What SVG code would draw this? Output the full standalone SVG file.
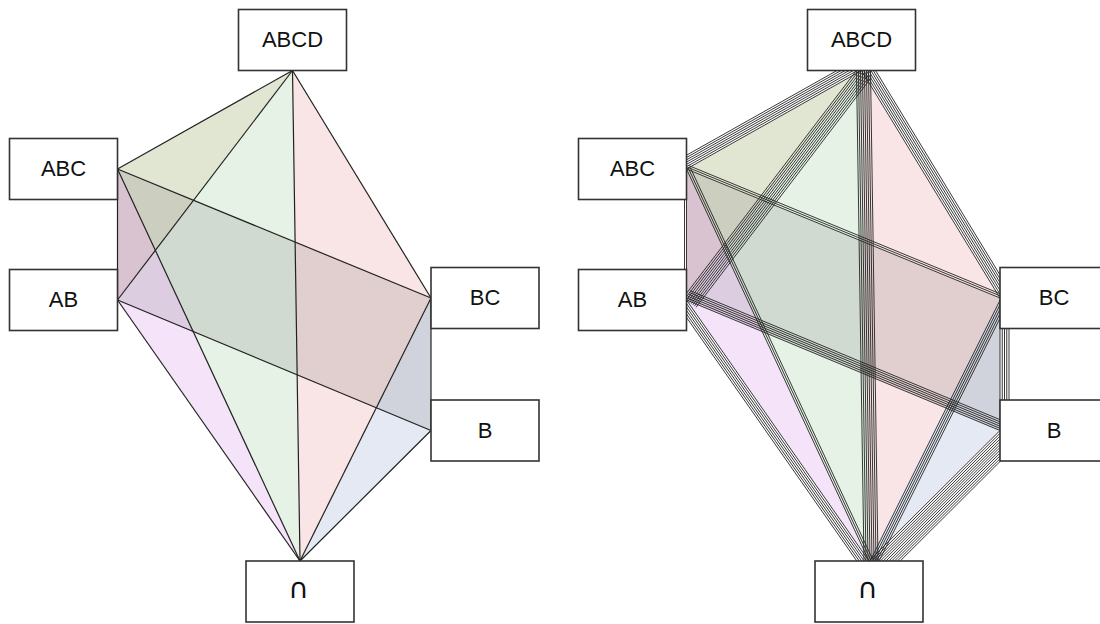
<svg xmlns="http://www.w3.org/2000/svg" width="1100" height="624" viewBox="0 0 1100 624">
<style>
.box{fill:#fff;stroke:#333;stroke-width:1.6}
.lbl{font-family:"Liberation Sans",Arial,sans-serif;font-size:22px;fill:#111;text-anchor:middle}
.sym{font-family:"DejaVu Sans",sans-serif;font-size:28px}
.e{stroke:#222;stroke-width:1.2;fill:none}
.b{stroke:#222;stroke-width:0.9;fill:none}
.g{fill:rgba(0,128,0,0.1)}
.p{fill:rgba(200,0,0,0.1)}
.bl{fill:rgba(0,40,150,0.1)}
.li{fill:rgba(200,100,230,0.18)}
.ol{fill:rgba(200,130,60,0.1)}
.q{fill:rgba(90,80,90,0.15)}
</style>
<defs>
<g id="fills">
<polygon class="g" points="292.5,70.5 117.5,169 300,561"/>
<polygon class="p" points="292.5,70.5 431,298 300,561"/>
<polygon class="bl" points="431,298 431,430.5 300,561"/>
<polygon class="li" points="117.5,169 117.5,300 300,561"/>
<polygon class="ol" points="292.5,70.5 117.5,169 117.5,300"/>
<polygon class="q" points="117.5,169 431,298 431,430.5 117.5,300"/>
</g>
</defs>

<g id="left-faces"><use href="#fills"/></g>
<g id="right-faces"><use href="#fills" transform="translate(569,0)"/></g>

<g id="left-connectors" class="e">
<line x1="292.5" y1="70.5" x2="117.5" y2="169"/>
<line x1="292.5" y1="70.5" x2="117.5" y2="300"/>
<line x1="292.5" y1="70.5" x2="300" y2="561"/>
<line x1="292.5" y1="70.5" x2="431" y2="298"/>
<line x1="117.5" y1="169" x2="117.5" y2="300"/>
<line x1="117.5" y1="169" x2="431" y2="298"/>
<line x1="117.5" y1="169" x2="300" y2="561"/>
<line x1="117.5" y1="300" x2="431" y2="430.5"/>
<line x1="117.5" y1="300" x2="300" y2="561"/>
<line x1="431" y1="298" x2="431" y2="430.5"/>
<line x1="431" y1="298" x2="300" y2="561"/>
<line x1="431" y1="430.5" x2="300" y2="561"/>
</g>

<g id="right-connectors" class="b">
<line id="r1" x1="861.5" y1="70.5" x2="686.5" y2="169"/>
<use href="#r1" x="-0.98" y="-1.74"/><use href="#r1" x="-1.96" y="-3.49"/><use href="#r1" x="-2.94" y="-5.23"/><use href="#r1" x="-3.92" y="-6.97"/><use href="#r1" x="-4.91" y="-8.72"/><use href="#r1" x="-5.89" y="-10.46"/>

<line id="r2" x1="861.5" y1="70.5" x2="686.5" y2="300"/>
<use href="#r2" x="-3.18" y="-2.43"/><use href="#r2" x="-1.59" y="-1.21"/><use href="#r2" x="1.59" y="1.21"/><use href="#r2" x="3.18" y="2.43"/><use href="#r2" x="4.77" y="3.64"/><use href="#r2" x="6.36" y="4.85"/><use href="#r2" x="7.95" y="6.06"/><use href="#r2" x="9.54" y="7.28"/>

<line id="r3" x1="856.5" y1="70.6" x2="864" y2="561.1"/>
<use href="#r3" x="2" y="-0.03"/><use href="#r3" x="4" y="-0.06"/><use href="#r3" x="6" y="-0.09"/><use href="#r3" x="8" y="-0.12"/><use href="#r3" x="10" y="-0.15"/><use href="#r3" x="12" y="-0.18"/><use href="#r3" x="14" y="-0.21"/>

<line id="r4" x1="861.5" y1="70.5" x2="1000" y2="298"/>
<use href="#r4" x="1.71" y="-1.04"/><use href="#r4" x="3.42" y="-2.08"/><use href="#r4" x="5.12" y="-3.12"/><use href="#r4" x="6.83" y="-4.16"/><use href="#r4" x="8.54" y="-5.2"/><use href="#r4" x="10.25" y="-6.24"/>

<line id="r5" x1="686.5" y1="169" x2="686.5" y2="300"/>
<use href="#r5" x="-2" y="0"/>

<line id="r6" x1="686.5" y1="169" x2="1000" y2="298"/>
<use href="#r6" x="0.76" y="-1.85"/><use href="#r6" x="1.52" y="-3.7"/>

<line id="r7" x1="686.5" y1="169" x2="869" y2="561"/>
<use href="#r7" x="1.81" y="-0.84"/><use href="#r7" x="3.63" y="-1.69"/>

<line id="r8" x1="686.5" y1="300" x2="1000" y2="430.5"/>
<use href="#r8" x="0.77" y="-1.85"/><use href="#r8" x="1.54" y="-3.69"/><use href="#r8" x="2.31" y="-5.54"/><use href="#r8" x="3.07" y="-7.39"/><use href="#r8" x="3.84" y="-9.23"/>

<line id="r9" x1="686.5" y1="300" x2="869" y2="561"/>
<use href="#r9" x="-1.64" y="1.15"/><use href="#r9" x="-3.28" y="2.29"/><use href="#r9" x="-4.92" y="3.44"/><use href="#r9" x="-6.56" y="4.58"/><use href="#r9" x="-8.2" y="5.73"/>

<line id="r10" x1="1000" y1="298" x2="1000" y2="430.5"/>
<use href="#r10" x="2.25" y="0"/><use href="#r10" x="4.5" y="0"/><use href="#r10" x="6.75" y="0"/><use href="#r10" x="9" y="0"/>

<line id="r11" x1="1000.9" y1="298.45" x2="869.9" y2="561.45"/>
<use href="#r11" x="1.79" y="0.89"/><use href="#r11" x="3.58" y="1.78"/><use href="#r11" x="5.37" y="2.68"/><use href="#r11" x="7.16" y="3.57"/>

<line id="r12" x1="1000" y1="430.5" x2="869" y2="561"/>
<use href="#r12" x="1.41" y="1.42"/><use href="#r12" x="2.82" y="2.83"/><use href="#r12" x="4.23" y="4.25"/><use href="#r12" x="5.65" y="5.67"/><use href="#r12" x="7.06" y="7.08"/><use href="#r12" x="8.47" y="8.5"/><use href="#r12" x="9.88" y="9.92"/><use href="#r12" x="11.29" y="11.34"/><use href="#r12" x="12.7" y="12.75"/><use href="#r12" x="14.12" y="14.17"/><use href="#r12" x="15.53" y="15.59"/>
</g>

<g id="node-ABCD-left"><rect class="box" x="238.5" y="9.5" width="108" height="61"/><text class="lbl" x="292.5" y="47">ABCD</text></g>
<g id="node-ABC-left"><rect class="box" x="9.5" y="138.5" width="108" height="61"/><text class="lbl" x="63.5" y="176">ABC</text></g>
<g id="node-AB-left"><rect class="box" x="9.5" y="269.5" width="108" height="61"/><text class="lbl" x="63.5" y="307">AB</text></g>
<g id="node-BC-left"><rect class="box" x="431" y="267.5" width="108" height="61"/><text class="lbl" x="485" y="305">BC</text></g>
<g id="node-B-left"><rect class="box" x="431" y="400" width="108" height="61"/><text class="lbl" x="485" y="437.5">B</text></g>
<g id="node-n-left"><rect class="box" x="246" y="561" width="108" height="61"/><text class="lbl sym" x="298.5" y="598">∩</text></g>

<g id="node-ABCD-right"><rect class="box" x="807.5" y="9.5" width="108" height="61"/><text class="lbl" x="861.5" y="47">ABCD</text></g>
<g id="node-ABC-right"><rect class="box" x="578.5" y="138.5" width="108" height="61"/><text class="lbl" x="632.5" y="176">ABC</text></g>
<g id="node-AB-right"><rect class="box" x="578.5" y="269.5" width="108" height="61"/><text class="lbl" x="632.5" y="307">AB</text></g>
<g id="node-BC-right"><rect class="box" x="1000" y="267.5" width="108" height="61"/><text class="lbl" x="1054" y="305">BC</text></g>
<g id="node-B-right"><rect class="box" x="1000" y="400" width="108" height="61"/><text class="lbl" x="1054" y="437.5">B</text></g>
<g id="node-n-right"><rect class="box" x="815" y="561" width="108" height="61"/><text class="lbl sym" x="867.5" y="598">∩</text></g>
</svg>
